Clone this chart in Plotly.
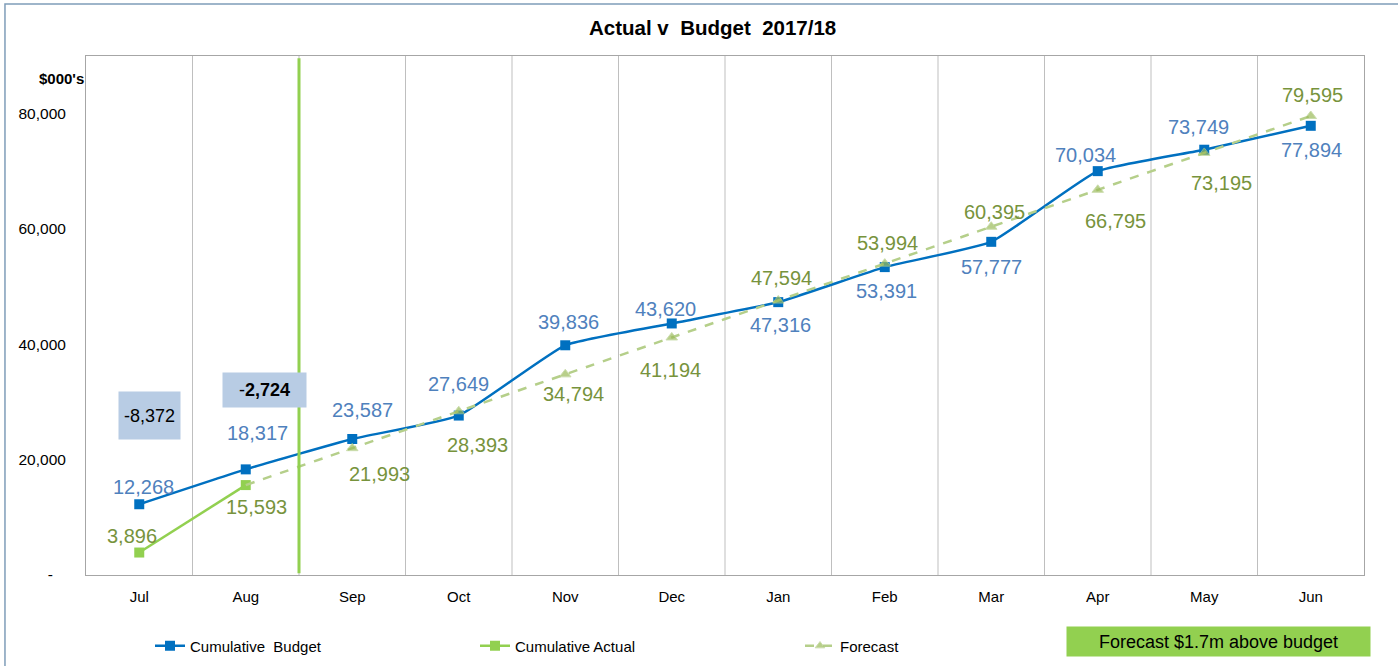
import plotly.graph_objects as go

months = ["Jul", "Aug", "Sep", "Oct", "Nov", "Dec", "Jan", "Feb", "Mar", "Apr", "May", "Jun"]
budget = [12268, 18317, 23587, 27649, 39836, 43620, 47316, 53391, 57777, 70034, 73749, 77894]
actual = [3896, 15593]
forecast = [None, 15593, 21993, 28393, 34794, 41194, 47594, 53994, 60395, 66795, 73195, 79595]
y_ticks = [0, 20000, 40000, 60000, 80000]

# label offsets in pixels from the marker (dy negative = above, dx positive = right)
budget_lbl_dy = [-17, -36, -29, -32, -23, -14, 23, 24, 25, -16, -23, 24]
budget_lbl_dx = [4, 12, 10, 0, 3, -6, 2, 2, 0, -12, -6, 1]
actual_lbl_dy = [-17, 22]
actual_lbl_dx = [-7, 11]
forecast_lbl_dy = [None, None, 26, 34, 20, 33, -23, -21, -15, 31, 30, -21]
forecast_lbl_dx = [None, None, 27, 19, 8, -1, 3, 3, 3, 18, 17, 2]

FONT = "Liberation Sans, Arial, sans-serif"
BUDGET_LBL = "#4F81BD"
GREEN_LBL = "#77933C"
xs = list(range(len(months)))

fig = go.Figure()

fig.add_trace(go.Scatter(
    x=xs, y=budget, name="Cumulative\u00a0 Budget", mode="lines+markers",
    line=dict(color="#0070C0", width=2.5, shape="spline", smoothing=0.4),
    marker=dict(symbol="square", size=10, color="#0070C0"),
))

fig.add_trace(go.Scatter(
    x=xs[:len(actual)], y=actual, name="Cumulative Actual", mode="lines+markers",
    line=dict(color="#92D050", width=2.5),
    marker=dict(symbol="square", size=10, color="#92D050"),
))

fig.add_trace(go.Scatter(
    x=xs, y=forecast, name="Forecast", mode="lines+markers",
    line=dict(color="#B5CF8A", width=2.5, dash="dash", shape="spline", smoothing=0.4),
    marker=dict(symbol="triangle-up", size=[0, 0] + [10] * 10, color="#9BBB59"),
))

# category separators
shapes = []
for i in range(len(months) - 1):
    shapes.append(dict(type="line", xref="x", yref="paper", x0=i + 0.5, x1=i + 0.5, y0=0, y1=1,
                       line=dict(color="#BFBFBF", width=1), layer="below"))
# current month marker line
shapes.append(dict(type="line", xref="x", yref="y", x0=1.5, x1=1.5, y0=300, y1=89600,
                   line=dict(color="#92D050", width=3)))
# outer chart border
shapes.append(dict(type="rect", xref="paper", yref="paper", x0=-0.0634, x1=1.03, y0=-0.18, y1=1.1,
                   line=dict(color="#7F9DB9", width=1.5), fillcolor="rgba(0,0,0,0)"))
fig.update_layout(shapes=shapes)

var_jul = actual[0] - budget[0]
var_aug = actual[1] - budget[1]

annotations = [
    dict(text="<b>Actual v\u00a0 Budget\u00a0 2017/18</b>", xref="paper", yref="paper", x=0.49,
         y=(575 - 28) / 519, showarrow=False, font=dict(size=20.5, color="#000", family=FONT),
         xanchor="center", yanchor="middle"),
    dict(text="<b>$000's</b>", xref="paper", yref="paper", x=0.0, y=(575 - 78) / 519, xanchor="right",
         yanchor="middle", showarrow=False, font=dict(size=15, color="#000", family=FONT)),
    dict(text=f"{var_jul:,}", xref="x", yref="paper", x=0.1, y=(575 - 415.5) / 519, showarrow=False,
         xanchor="center", yanchor="middle",
         bgcolor="#B8CCE4", width=57, height=43, borderpad=2,
         font=dict(size=18, color="#000", family=FONT)),
    dict(text=f"-<b>{abs(var_aug):,}</b>", xref="x", yref="paper", x=1.174, y=(575 - 390) / 519, showarrow=False,
         xanchor="center", yanchor="middle",
         bgcolor="#B8CCE4", width=79, height=30, borderpad=2,
         font=dict(size=18, color="#000", family=FONT)),
    dict(text="Forecast $1.7m above budget", xref="paper", yref="paper", x=(1218.5 - 86) / 1278,
         y=(575 - 641.5) / 519, showarrow=False, xanchor="center", yanchor="middle",
         bgcolor="#92D050", width=299, height=25, borderpad=2,
         font=dict(size=18, color="#000", family=FONT)),
]

def add_labels(values, dys, dxs, color):
    for i, (v, dy, dx) in enumerate(zip(values, dys, dxs)):
        if v is None or dy is None:
            continue
        annotations.append(dict(text=f"{v:,}", xref="x", yref="y", x=xs[i], y=v, yshift=-dy, xshift=dx,
                                showarrow=False, xanchor="center", yanchor="middle",
                                font=dict(size=20, color=color, family=FONT)))

add_labels(budget, budget_lbl_dy, budget_lbl_dx, BUDGET_LBL)
add_labels(actual, actual_lbl_dy, actual_lbl_dx, GREEN_LBL)
add_labels(forecast, forecast_lbl_dy, forecast_lbl_dx, GREEN_LBL)

fig.update_layout(
    width=1398, height=666,
    margin=dict(l=86, r=34, t=56, b=91, autoexpand=False),
    paper_bgcolor="white", plot_bgcolor="white",
    font=dict(family=FONT, color="#000"),
    showlegend=True,
    legend=dict(orientation="h", x=(150 - 86) / 1278, y=(575 - 646) / 519, xanchor="left", yanchor="middle",
                entrywidth=280, entrywidthmode="pixels", itemwidth=30,
                font=dict(size=15, color="#000", family=FONT), bgcolor="rgba(0,0,0,0)"),
    annotations=annotations,
    xaxis=dict(range=[-0.5, 11.5], tickvals=xs, ticktext=months, showgrid=False, zeroline=False,
               showline=True, linecolor="#A6A6A6", linewidth=1, mirror=True, automargin=False,
               tickfont=dict(size=15, color="#000", family=FONT), ticks="", ticklabelstandoff=8),
    yaxis=dict(range=[0, 90000], tickvals=y_ticks,
               ticktext=["-\u00a0\u00a0\u00a0" if v == 0 else f"{v:,}" for v in y_ticks],
               showgrid=False, zeroline=False, showline=True, linecolor="#A6A6A6", linewidth=1, mirror=True,
               automargin=False,
               tickfont=dict(size=15.5, color="#000", family=FONT), ticks="", ticklabelstandoff=16),
)

fig.write_html("out.html", config={"displayModeBar": False},
               post_script="document.body.style.margin='0';document.body.style.overflow='hidden';")
